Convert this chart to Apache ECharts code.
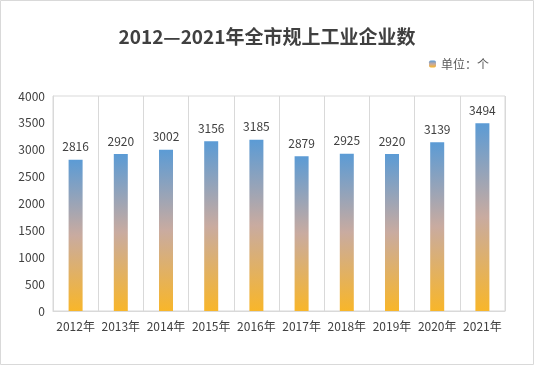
<!DOCTYPE html>
<html><head><meta charset="utf-8">
<script src="https://cdn.jsdelivr.net/npm/echarts@6/dist/echarts.min.js"></script>
<style>html,body{margin:0;padding:0;background:#fff}#c{width:534px;height:365px}</style>
</head><body><div id="c"></div>
<script>
const categories = ['2012年','2013年','2014年','2015年','2016年','2017年','2018年','2019年','2020年','2021年'];
const values = [2816,2920,3002,3156,3185,2879,2925,2920,3139,3494];
const titleText = '2012—2021年全市规上工业企业数';
const seriesName = '单位：个';
const FONT = '"Microsoft YaHei","Noto Sans CJK SC",sans-serif';
const grad = new echarts.graphic.LinearGradient(0,0,0,1,[
  {offset:0,color:'#5B9BD5'},{offset:0.5,color:'#C9ABA0'},{offset:1,color:'#F8B62A'}]);
const chart = echarts.init(document.getElementById('c'));
chart.setOption({
  animation:false,
  textStyle:{fontFamily:FONT},
  title:{text:titleText,left:'center',top:22,textStyle:{fontSize:19,fontWeight:'bold',color:'#404040',fontFamily:FONT}},
  legend:{data:[seriesName],right:40,top:53,itemWidth:7,itemHeight:7,itemGap:4,
    textStyle:{fontSize:12,color:'#595959',fontFamily:FONT}},
  graphic:[{type:'rect',shape:{x:0.5,y:0.5,width:533,height:364},style:{fill:null,stroke:'#D9D9D9',lineWidth:1},silent:true}],
  grid:{left:53,right:29,top:96,bottom:54,show:true,borderColor:'#D9D9D9',borderWidth:1},
  xAxis:{type:'category',data:categories,
    axisLine:{lineStyle:{color:'#D9D9D9'}},axisTick:{show:false},
    splitLine:{show:true,interval:0,lineStyle:{color:'#D9D9D9'}},
    axisLabel:{color:'#404040',fontSize:12,margin:9,interval:0,fontFamily:FONT}},
  yAxis:{type:'value',min:0,max:4000,interval:500,
    axisLine:{show:true,lineStyle:{color:'#D9D9D9'}},splitLine:{show:false},
    axisLabel:{color:'#404040',fontSize:12,margin:8,fontFamily:FONT,formatter:function(v){return String(v);}}},
  series:[{name:seriesName,type:'bar',data:values,barWidth:14,
    itemStyle:{color:grad},
    label:{show:true,position:'top',distance:7,color:'#404040',fontSize:12,fontFamily:FONT}}]
});
</script></body></html>
